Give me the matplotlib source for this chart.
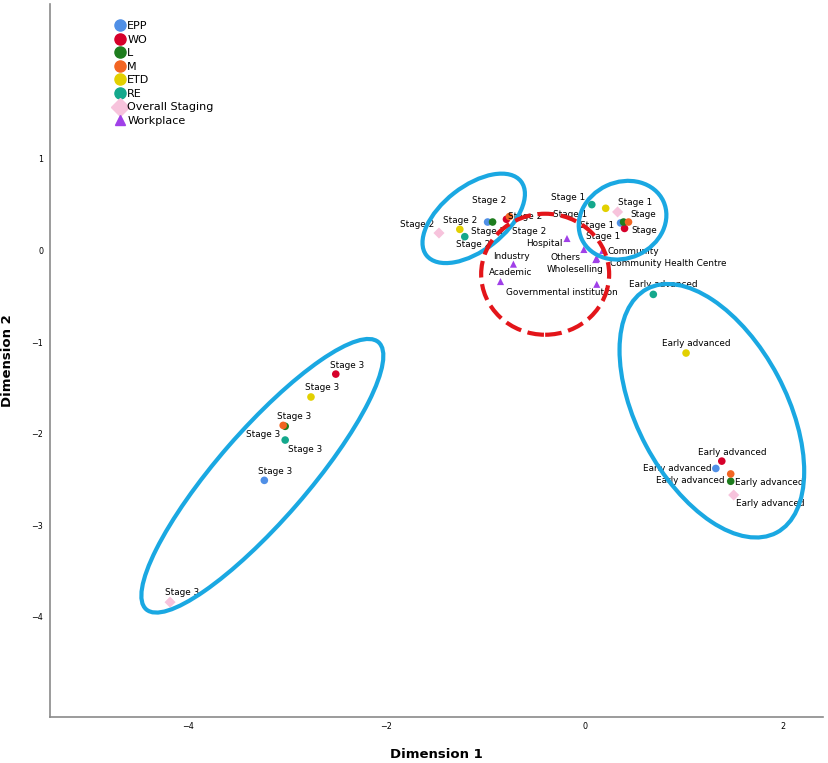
import matplotlib
matplotlib.use("Agg")
import matplotlib.pyplot as plt
from matplotlib.lines import Line2D
from matplotlib.patches import Ellipse
from matplotlib.transforms import ScaledTranslation

# ---------------- data ----------------
categories = ["Stage 1", "Stage 2", "Stage 3", "Early advanced"]

epp_x = [0.36, -0.98, -3.23, 1.32]
epp_y = [0.30, 0.31, -2.51, -2.38]
wo_x = [0.40, -0.79, -2.51, 1.38]
wo_y = [0.24, 0.34, -1.35, -2.30]
l_x = [0.39, -0.93, -3.02, 1.47]
l_y = [0.31, 0.31, -1.92, -2.52]
m_x = [0.44, -0.76, -3.04, 1.47]
m_y = [0.31, 0.37, -1.91, -2.44]
etd_x = [0.21, -1.26, -2.76, 1.02]
etd_y = [0.46, 0.23, -1.60, -1.12]
re_x = [0.07, -1.21, -3.02, 0.69]
re_y = [0.50, 0.15, -2.07, -0.48]
overall_x = [0.33, -1.47, -4.18, 1.50]
overall_y = [0.42, 0.19, -3.84, -2.67]

workplaces = ["Hospital", "Others", "Community", "Wholeselling",
              "Community Health Centre", "Industry", "Academic",
              "Governmental institution"]
work_x = [-0.18, -0.01, 0.18, 0.11, 0.12, -0.72, -0.85, 0.12]
work_y = [0.13, 0.01, 0.00, -0.10, -0.09, -0.15, -0.34, -0.37]

# ---------------- styling / label layout ----------------
series = [
    ("EPP", epp_x, epp_y, "#4f8fe6", "o"),
    ("WO", wo_x, wo_y, "#d6002a", "o"),
    ("L", l_x, l_y, "#1e7d1e", "o"),
    ("M", m_x, m_y, "#f26522", "o"),
    ("ETD", etd_x, etd_y, "#e2d000", "o"),
    ("RE", re_x, re_y, "#14a88c", "o"),
    ("Overall Staging", overall_x, overall_y, "#f7c3dc", "D"),
]
purple = "#a040e8"

# label offsets in pixels (dx, dy, ha), text override where the label is cut
label_pos = {
    "EPP": [(-23, -3, "center"), (2, 22, "center"), (11, 9, "center"), (-4, 0, "right")],
    "WO": [(7, -2, "left"), (19, 3, "center"), (11, 9, "center"), (10, 9, "center")],
    "L": [(-20, -14, "center"), (-4, -9, "center"), (-22, -8, "center"), (4, -1, "left")],
    "M": [(2, 8, "left"), (20, -15, "center"), (11, 9, "center"), (-6, -7, "right")],
    "ETD": [(-36, -6, "center"), (0, 9, "center"), (11, 9, "center"), (10, 10, "center")],
    "RE": [(-24, 7, "center"), (8, -8, "center"), (20, -9, "center"), (10, 10, "center")],
    "Overall Staging": [(18, 9, "center"), (-22, 9, "center"), (12, 10, "center"), (2, -8, "left")],
}
label_text = {("WO", 0): "Stage", ("M", 0): "Stage"}

work_pos = [(-23, -5, "center"), (-18, -8, "center"), (5, -1, "left"),
            (-21, -10, "center"), (13, -5, "left"), (-2, 8, "center"),
            (10, 9, "center"), (-35, -8, "center")]

plt.rcParams["font.family"] = ["DejaVu Sans"]

fig = plt.figure(figsize=(8.29, 7.63), dpi=100)
ax = fig.add_axes([50 / 829, 1 - 716.7 / 763, 773 / 829, 712.7 / 763])

for name, xs, ys, color, marker in series:
    size = 32 if marker == "D" else 30
    ax.scatter(xs, ys, s=size, c=color, marker=marker, edgecolors="none", zorder=3)
    for i, (x, y) in enumerate(zip(xs, ys)):
        dx, dy, ha = label_pos[name][i]
        txt = label_text.get((name, i), categories[i])
        ax.annotate(txt, (x, y), xytext=(dx, dy), textcoords="offset pixels",
                    ha=ha, va="center", fontsize=6.4, zorder=4)

ax.scatter(work_x, work_y, s=26, c=purple, marker="^", edgecolors="none", zorder=3)
for i, (x, y) in enumerate(zip(work_x, work_y)):
    dx, dy, ha = work_pos[i]
    ax.annotate(workplaces[i], (x, y), xytext=(dx, dy), textcoords="offset pixels",
                ha=ha, va="center", fontsize=6.4, zorder=4)

ax.set_xlim(-5.39, 2.40)
ax.set_ylim(-5.09, 2.69)
ax.set_xticks([-4, -2, 0, 2])
ax.set_yticks([-4, -3, -2, -1, 0, 1])
ax.tick_params(length=0, labelsize=5.8)
ax.tick_params(axis="x", pad=4)
ax.tick_params(axis="y", pad=5)
for side in ["top", "right"]:
    ax.spines[side].set_visible(False)
for side in ["left", "bottom"]:
    ax.spines[side].set_color("#8a8a8a")
    ax.spines[side].set_linewidth(1.2)

ax.set_xlabel("Dimension 1", fontsize=9.5, fontweight="bold")
ax.set_ylabel("Dimension 2", fontsize=9.5, fontweight="bold")
ax.xaxis.set_label_coords(0.5, -0.044)
ax.yaxis.set_label_coords(-0.047, 0.5)

# legend
handles = []
for name, xs, ys, color, marker in series:
    ms = 9 if marker == "D" else 8
    handles.append(Line2D([], [], linestyle="none", marker=marker, color=color,
                          markersize=ms, label=name))
handles.append(Line2D([], [], linestyle="none", marker="^", color=purple,
                      markersize=7, label="Workplace"))
ax.legend(handles=handles, loc="upper left", bbox_to_anchor=(0.085, 0.976),
          frameon=False, fontsize=8, handlelength=0.8, handletextpad=0.25,
          labelspacing=0.32, borderpad=0, borderaxespad=0)

# hand-drawn highlight ellipses: centre in data units, size in pixels, angle in degrees
blue = "#1aa8e2"
rings = [
    (-1.12, 0.35, 120, 64, 38, blue, "solid"),
    (0.38, 0.33, 90, 76, 25, blue, "solid"),
    (1.28, -1.75, 276, 149, -62, blue, "solid"),
    (-3.25, -2.46, 354, 90, 49, blue, "solid"),
    (-0.40, -0.26, 128, 121, 0, "#e3151a", (0, (4, 1.6))),
]
for cx, cy, w, h, ang, col, ls in rings:
    e = Ellipse((0, 0), w / 100, h / 100, angle=ang, fill=False, edgecolor=col,
                linewidth=3.0, linestyle=ls, zorder=6, clip_on=False,
                transform=fig.dpi_scale_trans + ScaledTranslation(cx, cy, ax.transData))
    fig.add_artist(e)

fig.savefig("out.png", dpi=100)
